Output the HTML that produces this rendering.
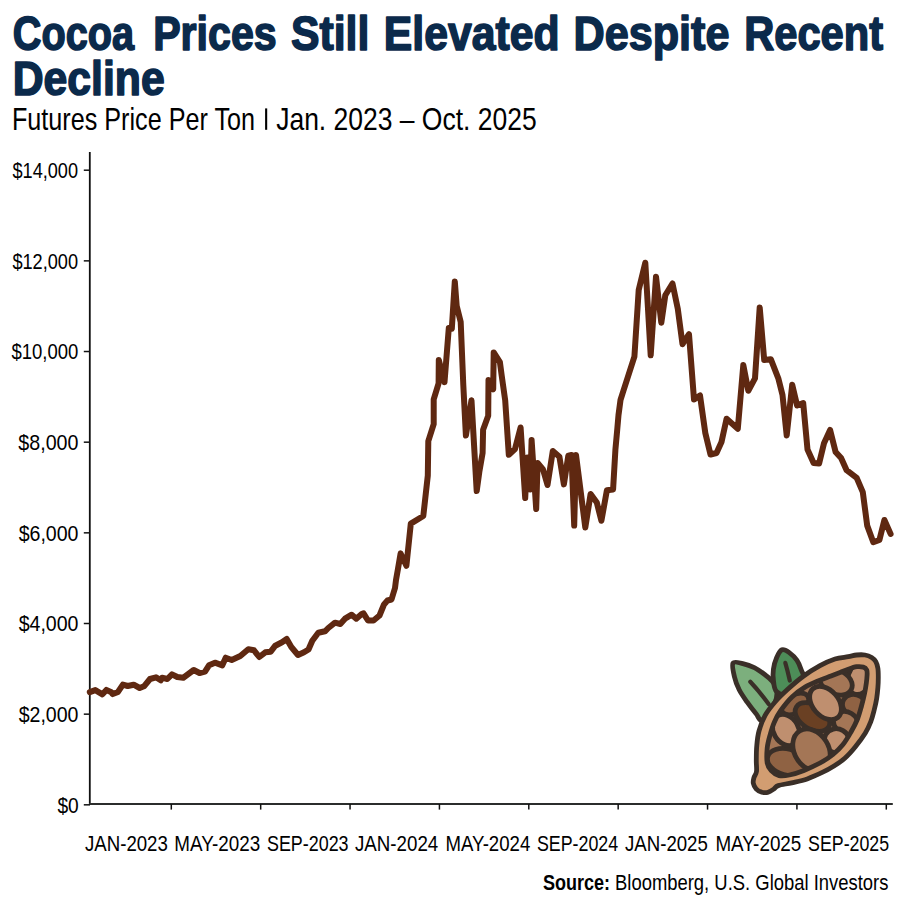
<!DOCTYPE html>
<html><head><meta charset="utf-8"><style>
html,body{margin:0;padding:0;background:#fff;}
svg{display:block;}
text{font-family:"Liberation Sans",sans-serif;}
.t{font-weight:bold;font-size:48px;fill:#0b2a4b;stroke:#0b2a4b;stroke-width:1.6px;stroke-linejoin:round;}
.s{font-size:30.5px;fill:#000;}
.a{font-size:22.5px;fill:#000;}
.sb{font-size:21.4px;font-weight:bold;fill:#000;}
.sr{font-size:21.4px;fill:#000;}
</style></head><body>
<svg width="900" height="900" viewBox="0 0 900 900">
<rect width="900" height="900" fill="#fff"/>
<text x="12.79" y="49.8" class="t" textLength="121.25" lengthAdjust="spacingAndGlyphs">Cocoa</text>
<text x="153.16" y="49.8" class="t" textLength="123.52" lengthAdjust="spacingAndGlyphs">Prices</text>
<text x="291.00" y="49.8" class="t" textLength="78.38" lengthAdjust="spacingAndGlyphs">Still</text>
<text x="383.87" y="49.8" class="t" textLength="175.71" lengthAdjust="spacingAndGlyphs">Elevated</text>
<text x="573.60" y="49.8" class="t" textLength="155.87" lengthAdjust="spacingAndGlyphs">Despite</text>
<text x="744.15" y="49.8" class="t" textLength="138.90" lengthAdjust="spacingAndGlyphs">Recent</text>
<text x="12.71" y="94.8" class="t" textLength="152.01" lengthAdjust="spacingAndGlyphs">Decline</text>
<text x="11.95" y="129.9" class="s" textLength="243.08" lengthAdjust="spacingAndGlyphs">Futures Price Per Ton</text>
<text x="276.18" y="129.9" class="s" textLength="260.48" lengthAdjust="spacingAndGlyphs">Jan. 2023 – Oct. 2025</text>
<text x="12.49" y="178.1" class="a" textLength="65.54" lengthAdjust="spacingAndGlyphs">$14,000</text>
<text x="12.38" y="268.76" class="a" textLength="65.70" lengthAdjust="spacingAndGlyphs">$12,000</text>
<text x="11.49" y="359.42" class="a" textLength="66.88" lengthAdjust="spacingAndGlyphs">$10,000</text>
<text x="18.37" y="450.08" class="a" textLength="60.13" lengthAdjust="spacingAndGlyphs">$8,000</text>
<text x="18.68" y="540.74" class="a" textLength="59.81" lengthAdjust="spacingAndGlyphs">$6,000</text>
<text x="18.68" y="631.4" class="a" textLength="59.83" lengthAdjust="spacingAndGlyphs">$4,000</text>
<text x="18.68" y="722.06" class="a" textLength="59.83" lengthAdjust="spacingAndGlyphs">$2,000</text>
<text x="57.42" y="812.72" class="a" textLength="21.32" lengthAdjust="spacingAndGlyphs">$0</text>
<text x="85.03" y="850.8" class="a" textLength="82.83" lengthAdjust="spacingAndGlyphs">JAN-2023</text>
<text x="174.36" y="850.8" class="a" textLength="85.89" lengthAdjust="spacingAndGlyphs">MAY-2023</text>
<text x="266.94" y="850.8" class="a" textLength="81.65" lengthAdjust="spacingAndGlyphs">SEP-2023</text>
<text x="355.02" y="850.8" class="a" textLength="83.18" lengthAdjust="spacingAndGlyphs">JAN-2024</text>
<text x="445.43" y="850.8" class="a" textLength="84.82" lengthAdjust="spacingAndGlyphs">MAY-2024</text>
<text x="536.94" y="850.8" class="a" textLength="81.27" lengthAdjust="spacingAndGlyphs">SEP-2024</text>
<text x="625.03" y="850.8" class="a" textLength="82.83" lengthAdjust="spacingAndGlyphs">JAN-2025</text>
<text x="715.41" y="850.8" class="a" textLength="85.93" lengthAdjust="spacingAndGlyphs">MAY-2025</text>
<text x="808.05" y="850.8" class="a" textLength="81.07" lengthAdjust="spacingAndGlyphs">SEP-2025</text>
<text x="543.05" y="889.8" class="sb" textLength="67.03" lengthAdjust="spacingAndGlyphs">Source:</text>
<text x="615.02" y="889.8" class="sr" textLength="273.40" lengthAdjust="spacingAndGlyphs">Bloomberg, U.S. Global Investors</text>
<rect x="265.1" y="108.4" width="2.1" height="21.4" fill="#000"/>
<line x1="89.8" y1="152" x2="89.8" y2="804.6" stroke="#111" stroke-width="1.8"/>
<line x1="89" y1="803.9" x2="892.8" y2="803.9" stroke="#2b2d2c" stroke-width="2"/>
<line x1="83.8" y1="170.20" x2="90" y2="170.20" stroke="#111" stroke-width="1.5"/>
<line x1="83.8" y1="260.86" x2="90" y2="260.86" stroke="#111" stroke-width="1.5"/>
<line x1="83.8" y1="351.52" x2="90" y2="351.52" stroke="#111" stroke-width="1.5"/>
<line x1="83.8" y1="442.18" x2="90" y2="442.18" stroke="#111" stroke-width="1.5"/>
<line x1="83.8" y1="532.84" x2="90" y2="532.84" stroke="#111" stroke-width="1.5"/>
<line x1="83.8" y1="623.50" x2="90" y2="623.50" stroke="#111" stroke-width="1.5"/>
<line x1="83.8" y1="714.16" x2="90" y2="714.16" stroke="#111" stroke-width="1.5"/>
<line x1="83.8" y1="804.82" x2="90" y2="804.82" stroke="#111" stroke-width="1.5"/>
<line x1="171.30" y1="804" x2="171.30" y2="809.6" stroke="#111" stroke-width="1.5"/>
<line x1="260.68" y1="804" x2="260.68" y2="809.6" stroke="#111" stroke-width="1.5"/>
<line x1="350.05" y1="804" x2="350.05" y2="809.6" stroke="#111" stroke-width="1.5"/>
<line x1="439.43" y1="804" x2="439.43" y2="809.6" stroke="#111" stroke-width="1.5"/>
<line x1="528.80" y1="804" x2="528.80" y2="809.6" stroke="#111" stroke-width="1.5"/>
<line x1="618.17" y1="804" x2="618.17" y2="809.6" stroke="#111" stroke-width="1.5"/>
<line x1="707.55" y1="804" x2="707.55" y2="809.6" stroke="#111" stroke-width="1.5"/>
<line x1="796.92" y1="804" x2="796.92" y2="809.6" stroke="#111" stroke-width="1.5"/>
<line x1="886.30" y1="804" x2="886.30" y2="809.6" stroke="#111" stroke-width="1.5"/>
<polyline points="89.8,692.1 95.3,690.1 102.4,694.3 106.4,689.9 110.9,691.9 112.7,694.1 118,691.9 122.9,684.6 127.7,686 133.7,684.7 139.7,688 144,686.3 150,679 156,677.3 160.7,680.3 162,677.7 167.3,679 172,674.3 177.3,677 183.3,677.7 188,674.3 193.7,670 199.5,673 205,671.7 209,665.3 215,662.7 222.3,665.3 225.7,657.7 231.7,660 240.3,656 248.3,649.3 254,650.3 259.3,657 265.3,652.3 270.7,651.7 275.3,645.7 282,642.3 286.7,639 291.3,647 298,655 304,652.3 308.5,649.5 312.3,640.7 318.3,632.7 325,631.3 328.3,628 335,622.7 340.3,624 345,618.7 351.7,614.7 356.3,618.7 361.7,614 363.5,613.3 368,620.5 373.5,620.5 379.5,615.5 384,604.5 387.5,600.5 391.5,599.5 395,588 396,580 398,568.7 400.6,553.4 406.4,565.8 410.8,523.6 423.3,516 427.8,475.6 428.3,441.1 433.7,424.2 433.7,399.3 438.6,383.3 438.8,360 444.5,382.2 448.8,328 451.8,328.8 454.8,281.5 456.7,306 460.7,322 463.3,385 465.9,435.5 471.5,400.3 476.7,491 479.3,472 482.6,453 483.1,429.7 488.2,415.7 488.5,380 493.2,389.3 493.7,352.4 499.9,362.2 501.7,375.6 505.2,400.4 508.8,454.8 515,449 520.6,427.5 525.2,498 527.3,457.5 530.2,489.5 531.6,440 536.2,509 537.6,463 543,469.5 547.5,485 552.8,451 559.4,456.7 563.9,484.4 568.3,455.6 571.5,455 574.2,525.6 576,455 585.3,527.6 590.6,494 596.8,502.6 601.4,520.8 606.9,490.2 613.1,489.4 615.4,449.8 617.2,430 618.5,415 620.5,400 623.3,391.1 634.4,356.7 638.7,290 645.3,262.7 650.7,355.3 656,276.7 661.3,322.7 665.3,295.3 672.5,283.5 677.8,308.9 682.5,344.2 689,334.2 694,399.5 700,395.5 705.3,433 710.5,454.5 716.5,453 721.5,442 726.6,418.7 737.8,428.7 743.3,365 748.3,390.8 755,378.3 759.7,307.5 764.2,360 770.8,359.2 778.3,378.3 782.5,395 786.7,435.4 792.2,384.7 797.1,405.5 803.2,403 807.5,449.5 813.6,462.9 819.1,463.5 824,443.3 830.1,429.9 835.6,451.9 841.1,458 846.6,470.2 856.7,477.8 862.8,492.2 867.2,525.6 873.3,542.2 879.4,540 884.4,520 890.6,533.9" fill="none" stroke="#5f2811" stroke-width="6" stroke-linejoin="round" stroke-linecap="round"/>
<defs><clipPath id="cav"><path d="M767.2,748.0 C766.8,752.6 766.5,759.2 767.2,763.0 C767.9,766.8 769.2,768.5 771.2,770.6 C773.2,772.7 776.0,774.9 779.0,775.6 C782.0,776.3 785.2,775.9 789.4,775.0 C793.6,774.1 798.9,772.4 804.0,770.4 C809.1,768.4 815.2,765.6 820.0,763.0 C824.8,760.4 829.2,757.6 833.0,754.5 C836.8,751.4 840.0,748.2 843.0,744.5 C846.0,740.8 848.6,736.2 851.0,732.0 C853.4,727.8 855.8,723.3 857.5,719.0 C859.2,714.7 860.3,710.3 861.5,706.0 C862.7,701.7 863.8,697.1 864.6,693.3 C865.4,689.5 865.9,686.3 866.3,683.3 C866.7,680.2 867.0,677.2 867.1,675.0 C867.2,672.8 867.3,671.3 866.7,670.0 C866.1,668.7 865.0,667.6 863.3,667.1 C861.6,666.6 859.2,666.4 856.7,666.7 C854.2,667.1 851.1,668.2 848.3,669.2 C845.5,670.2 842.9,671.4 840.0,672.5 C837.1,673.6 834.3,674.7 831.0,676.0 C827.7,677.3 824.3,678.2 820.0,680.1 C815.7,682.0 809.7,684.3 805.0,687.1 C800.3,689.9 796.1,693.1 792.0,697.0 C787.9,700.9 783.6,706.5 780.6,710.7 C777.6,714.9 776.1,718.1 774.3,722.2 C772.5,726.4 771.1,731.3 769.9,735.6 C768.7,739.9 767.7,743.4 767.2,748.0Z"/></clipPath></defs>
<path d="M733.0,663.1 C734.4,660.9 739.2,662.9 742.8,663.6 C746.3,664.4 750.6,665.8 754.3,667.6 C758.0,669.5 762.0,672.5 765.0,674.7 C768.0,676.9 770.0,678.5 772.0,681.0 C774.0,683.5 776.7,686.0 777.0,690.0 C777.3,694.0 776.5,700.0 774.0,705.0 C771.5,710.0 765.3,718.5 762.3,720.0 C759.3,721.5 758.6,716.8 756.1,713.8 C753.6,710.8 750.0,706.2 747.2,702.2 C744.4,698.2 741.3,694.0 739.2,689.8 C737.1,685.6 735.5,681.5 734.5,677.0 C733.5,672.5 731.6,665.3 733.0,663.1Z" fill="#7caf7d" stroke="#3a2f28" stroke-width="4.8" stroke-linejoin="round"/>
<path d="M750.3,681.8 Q759,691 768.6,704" fill="none" stroke="#3a2f28" stroke-width="4.2" stroke-linecap="round"/>
<path d="M781.9,649.8 C784.0,648.9 786.5,650.6 789.0,652.4 C791.5,654.2 794.9,657.4 797.0,660.4 C799.1,663.4 800.3,666.9 801.4,670.2 C802.5,673.5 805.4,675.9 803.5,680.0 C801.6,684.1 794.5,693.1 790.0,695.0 C785.5,696.9 779.4,694.1 776.6,691.6 C773.8,689.1 773.9,683.7 773.4,680.0 C772.9,676.3 772.9,673.0 773.4,669.3 C773.9,665.6 775.2,661.0 776.6,657.8 C778.0,654.5 779.8,650.7 781.9,649.8Z" fill="#4d8d58" stroke="#3a2f28" stroke-width="4.8" stroke-linejoin="round"/>
<path d="M785.3,662.8 Q787.5,670 789.8,680.5" fill="none" stroke="#3a2f28" stroke-width="4.2" stroke-linecap="round"/>
<path d="M756.5,771.5 C756.9,768.5 756.2,764.3 756.3,760.0 C756.3,755.7 756.3,750.3 756.8,745.5 C757.2,740.7 757.6,736.0 759.0,731.0 C760.4,726.0 762.4,720.4 765.0,715.6 C767.6,710.8 771.1,706.5 774.8,702.2 C778.5,697.9 782.5,694.1 787.2,689.8 C791.9,685.5 797.5,680.5 803.0,676.5 C808.5,672.5 814.7,668.6 820.0,665.7 C825.3,662.8 830.3,660.5 835.0,659.0 C839.7,657.5 844.7,657.4 848.3,656.7 C851.9,656.0 853.9,655.3 856.7,655.0 C859.5,654.7 862.5,654.6 865.0,655.0 C867.5,655.4 869.9,656.4 871.7,657.5 C873.5,658.6 874.8,659.9 875.8,661.7 C876.8,663.5 877.5,665.7 877.9,668.3 C878.3,670.9 878.3,674.3 878.3,677.5 C878.3,680.7 878.2,684.0 877.9,687.5 C877.6,691.0 877.3,694.5 876.7,698.3 C876.1,702.0 875.2,706.1 874.2,710.0 C873.2,713.9 872.3,717.8 870.8,721.7 C869.3,725.6 867.8,729.1 865.2,733.3 C862.6,737.5 858.8,742.6 855.4,746.7 C852.0,750.9 848.4,755.0 844.8,758.2 C841.2,761.4 837.7,763.7 834.0,766.0 C830.3,768.3 827.3,770.1 822.8,772.2 C818.3,774.4 812.4,777.1 807.2,778.9 C802.0,780.7 796.5,781.7 791.7,782.8 C786.9,783.9 781.3,784.6 778.3,785.6 C775.3,786.6 775.6,787.8 773.9,788.9 C772.2,790.0 770.3,791.7 768.3,792.2 C766.3,792.8 763.7,792.8 761.7,792.2 C759.7,791.7 757.5,790.4 756.1,788.9 C754.7,787.4 753.7,785.1 753.3,783.3 C752.9,781.4 753.4,779.8 753.9,777.8 C754.4,775.8 756.1,774.5 756.5,771.5Z" fill="#d29d71" stroke="#3a2f28" stroke-width="4.8" stroke-linejoin="round"/>
<g clip-path="url(#cav)"><path d="M767.2,748.0 C766.8,752.6 766.5,759.2 767.2,763.0 C767.9,766.8 769.2,768.5 771.2,770.6 C773.2,772.7 776.0,774.9 779.0,775.6 C782.0,776.3 785.2,775.9 789.4,775.0 C793.6,774.1 798.9,772.4 804.0,770.4 C809.1,768.4 815.2,765.6 820.0,763.0 C824.8,760.4 829.2,757.6 833.0,754.5 C836.8,751.4 840.0,748.2 843.0,744.5 C846.0,740.8 848.6,736.2 851.0,732.0 C853.4,727.8 855.8,723.3 857.5,719.0 C859.2,714.7 860.3,710.3 861.5,706.0 C862.7,701.7 863.8,697.1 864.6,693.3 C865.4,689.5 865.9,686.3 866.3,683.3 C866.7,680.2 867.0,677.2 867.1,675.0 C867.2,672.8 867.3,671.3 866.7,670.0 C866.1,668.7 865.0,667.6 863.3,667.1 C861.6,666.6 859.2,666.4 856.7,666.7 C854.2,667.1 851.1,668.2 848.3,669.2 C845.5,670.2 842.9,671.4 840.0,672.5 C837.1,673.6 834.3,674.7 831.0,676.0 C827.7,677.3 824.3,678.2 820.0,680.1 C815.7,682.0 809.7,684.3 805.0,687.1 C800.3,689.9 796.1,693.1 792.0,697.0 C787.9,700.9 783.6,706.5 780.6,710.7 C777.6,714.9 776.1,718.1 774.3,722.2 C772.5,726.4 771.1,731.3 769.9,735.6 C768.7,739.9 767.7,743.4 767.2,748.0Z" fill="#a47656"/>
<ellipse cx="860" cy="678" rx="12" ry="17" transform="rotate(20 860 678)" fill="#bf8f6f" stroke="#3a2f28" stroke-width="4.8"/>
<ellipse cx="836" cy="682" rx="17" ry="12" transform="rotate(25 836 682)" fill="#a47656" stroke="#3a2f28" stroke-width="4.8"/>
<ellipse cx="855" cy="706" rx="13" ry="11" transform="rotate(30 855 706)" fill="#8f6243" stroke="#3a2f28" stroke-width="4.8"/>
<ellipse cx="846" cy="723" rx="13" ry="11" transform="rotate(30 846 723)" fill="#a47656" stroke="#3a2f28" stroke-width="4.8"/>
<ellipse cx="837" cy="741" rx="13" ry="12" transform="rotate(30 837 741)" fill="#bf8f6f" stroke="#3a2f28" stroke-width="4.8"/>
<ellipse cx="795" cy="704" rx="15" ry="9" transform="rotate(-30 795 704)" fill="#8f6243" stroke="#3a2f28" stroke-width="4.8"/>
<ellipse cx="787" cy="762" rx="20" ry="13" transform="rotate(15 787 762)" fill="#8f6243" stroke="#3a2f28" stroke-width="4.8"/>
<ellipse cx="786" cy="730" rx="12.5" ry="16.5" transform="rotate(-30 786 730)" fill="#bf8f6f" stroke="#3a2f28" stroke-width="4.8"/>
<ellipse cx="812.5" cy="717" rx="19" ry="12" transform="rotate(32 812.5 717)" fill="#6a4023" stroke="#3a2f28" stroke-width="4.8"/>
<ellipse cx="825.5" cy="703" rx="19" ry="13" transform="rotate(49 825.5 703)" fill="#bf8f6f" stroke="#3a2f28" stroke-width="4.8"/>
<ellipse cx="811.5" cy="750" rx="22.5" ry="17" transform="rotate(58 811.5 750)" fill="#a47656" stroke="#3a2f28" stroke-width="4.8"/>
</g>
<path d="M767.2,748.0 C766.8,752.6 766.5,759.2 767.2,763.0 C767.9,766.8 769.2,768.5 771.2,770.6 C773.2,772.7 776.0,774.9 779.0,775.6 C782.0,776.3 785.2,775.9 789.4,775.0 C793.6,774.1 798.9,772.4 804.0,770.4 C809.1,768.4 815.2,765.6 820.0,763.0 C824.8,760.4 829.2,757.6 833.0,754.5 C836.8,751.4 840.0,748.2 843.0,744.5 C846.0,740.8 848.6,736.2 851.0,732.0 C853.4,727.8 855.8,723.3 857.5,719.0 C859.2,714.7 860.3,710.3 861.5,706.0 C862.7,701.7 863.8,697.1 864.6,693.3 C865.4,689.5 865.9,686.3 866.3,683.3 C866.7,680.2 867.0,677.2 867.1,675.0 C867.2,672.8 867.3,671.3 866.7,670.0 C866.1,668.7 865.0,667.6 863.3,667.1 C861.6,666.6 859.2,666.4 856.7,666.7 C854.2,667.1 851.1,668.2 848.3,669.2 C845.5,670.2 842.9,671.4 840.0,672.5 C837.1,673.6 834.3,674.7 831.0,676.0 C827.7,677.3 824.3,678.2 820.0,680.1 C815.7,682.0 809.7,684.3 805.0,687.1 C800.3,689.9 796.1,693.1 792.0,697.0 C787.9,700.9 783.6,706.5 780.6,710.7 C777.6,714.9 776.1,718.1 774.3,722.2 C772.5,726.4 771.1,731.3 769.9,735.6 C768.7,739.9 767.7,743.4 767.2,748.0Z" fill="none" stroke="#3a2f28" stroke-width="4.8" stroke-linejoin="round"/>
</svg>
</body></html>
